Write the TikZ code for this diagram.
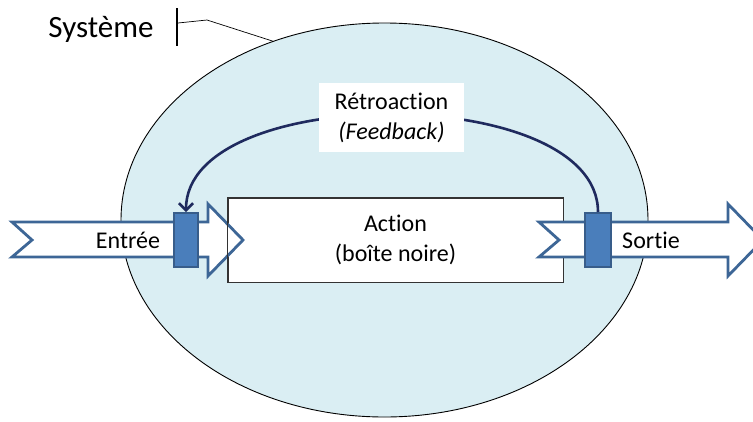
\documentclass[tikz,border=0pt]{standalone}
\usepackage{fontspec}
\setmainfont{Carlito}[Ligatures=NoCommon]
\usetikzlibrary{arrows.meta,shapes.geometric}

\definecolor{sysfill}{HTML}{DAEEF3}
\definecolor{arrowline}{HTML}{3D6696}
\definecolor{plugfill}{HTML}{4A7EBB}
\definecolor{plugline}{HTML}{385D8A}
\definecolor{loopline}{HTML}{1F2A5E}

\begin{document}
\begin{tikzpicture}[
  x=1pt, y=-1pt,
  txt/.style={font=\fontsize{24}{30}\selectfont, align=center, inner sep=0pt},
  box/.style={draw=black!80, line width=1pt, fill=white, minimum width=335pt, minimum height=84pt},
  flowarrow/.style={draw=arrowline, line width=2.8pt, fill=white, line join=miter},
  plug/.style={draw=plugline, line width=2pt, fill=plugfill, minimum width=24pt, minimum height=54pt, inner sep=0pt},
  loop/.style={draw=loopline, line width=2.6pt, -{Straight Barb[length=7pt,width=14pt]}}
]
\useasboundingbox (0,0) rectangle (753,421);

% system boundary
\node[draw, ellipse, fill=sysfill, line width=0.9pt, minimum width=527pt, minimum height=394pt, inner sep=0pt] (sys) at (384.5,220) {};

% title with callout
\node[anchor=base, font=\fontsize{31}{36}\selectfont, inner sep=0pt] (title) at (101,37) {Système};
\coordinate (bar) at (177,8);
\coordinate (c1) at (178,23);
\coordinate (c2) at (207,20);
\draw[line width=1.5pt] (bar) -- ++(0,38);
\draw[line width=0.7pt] (c1) -- (c2) -- (sys.122);

% black box
\node[box, txt] (act) at (395.5,240) {Action\\(boîte noire)};

% input arrow (box edge stays on top)
\draw[flowarrow] (12,222) -- (208,222) -- (208,204) -- (243,240) -- (208,276) -- (208,257) -- (12,257) -- (32,240) -- cycle;
\draw[draw=black!80, line width=1pt] (act.north west) rectangle (act.south east);

% output arrow
\draw[flowarrow] (539,222) -- (728,222) -- (728,204) -- (763,240) -- (728,276) -- (728,257) -- (539,257) -- (559,240) -- cycle;

\node[txt] (in) at (128,240) {Entrée};
\node[txt] (out) at (651,240) {Sortie};

% measuring points
\node[plug] (pL) at (186,240) {};
\node[plug, minimum width=26pt] (pR) at (598,240) {};

% feedback loop
\draw[loop] (pR.north) .. controls +(0,-130) and +(0,-130) .. (pL.north);
\node[txt, fill=white, minimum width=145pt, minimum height=69pt] (fb) at (391.5,117.5) {Rétroaction\\\textit{(Feedback)}};

\end{tikzpicture}
\end{document}
